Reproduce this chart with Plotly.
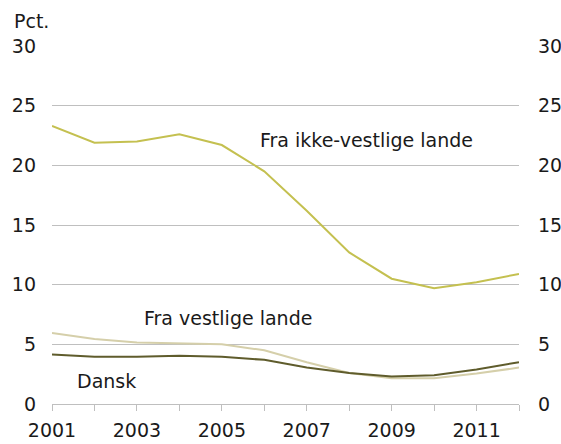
import plotly.graph_objects as go

years = list(range(2001, 2013))
ikke_vestlige = [23.3, 21.9, 22.0, 22.6, 21.7, 19.5, 16.2, 12.7, 10.5, 9.7, 10.2, 10.9]
vestlige = [5.95, 5.45, 5.15, 5.1, 5.0, 4.5, 3.5, 2.6, 2.15, 2.15, 2.55, 3.05]
dansk = [4.15, 3.95, 3.95, 4.05, 3.95, 3.7, 3.05, 2.6, 2.3, 2.4, 2.9, 3.5]
tick_labels = [str(y) if y % 2 == 1 else "" for y in years]
y_ticks = [0, 5, 10, 15, 20, 25, 30]

FONT = "DejaVu Sans"
FS = 19
fig = go.Figure()
fig.add_trace(go.Scatter(x=years, y=ikke_vestlige, mode="lines",
                         line=dict(color="#c4c050", width=2), showlegend=False))
fig.add_trace(go.Scatter(x=years, y=vestlige, mode="lines",
                         line=dict(color="#d5cfaa", width=2), showlegend=False))
fig.add_trace(go.Scatter(x=years, y=dansk, mode="lines",
                         line=dict(color="#5f5c2c", width=2), showlegend=False))
fig.add_trace(go.Scatter(x=years, y=dansk, mode="lines", yaxis="y2",
                         line=dict(width=0), hoverinfo="skip", showlegend=False, opacity=0))

fig.update_layout(
    width=561, height=444, autosize=False,
    margin=dict(l=52, r=42, t=46, b=40, pad=0, autoexpand=False),
    paper_bgcolor="white", plot_bgcolor="white",
    font=dict(family=FONT, size=FS, color="#1a1a1a"),
    xaxis=dict(range=[2001, 2012], tickmode="array", tickvals=years, ticktext=tick_labels,
               ticks="outside", ticklen=6, tickcolor="#bfbfbf", showline=True,
               linecolor="#bfbfbf", linewidth=1, showgrid=False, zeroline=False,
               automargin=False, ticklabelstandoff=3, tickfont=dict(size=FS)),
    yaxis=dict(range=[0, 30], tickvals=y_ticks, showgrid=True, gridcolor="#bfbfbf",
               gridwidth=1, zeroline=False, showline=False, ticks="", automargin=False,
               ticklabelstandoff=15, tickfont=dict(size=FS)),
    yaxis2=dict(range=[0, 30], tickvals=y_ticks, overlaying="y", side="right",
                showgrid=False, zeroline=False, showline=False, ticks="", automargin=False,
                ticklabelstandoff=18, tickfont=dict(size=FS)),
    annotations=[
        dict(text="Pct.", xref="paper", yref="paper", x=-0.0857, y=1.07, xanchor="left",
             yanchor="middle", showarrow=False, font=dict(size=FS)),
        dict(text="Fra ikke-vestlige lande", x=2008.4, y=22.1, showarrow=False,
             font=dict(size=FS)),
        dict(text="Fra vestlige lande", x=2005.14, y=7.2, showarrow=False,
             font=dict(size=FS)),
        dict(text="Dansk", x=2002.29, y=1.93, showarrow=False, font=dict(size=FS)),
    ],
)
fig.write_html("out.html", config={"displayModeBar": False},
               post_script="document.body.style.margin='0';document.body.style.overflow='hidden';")
